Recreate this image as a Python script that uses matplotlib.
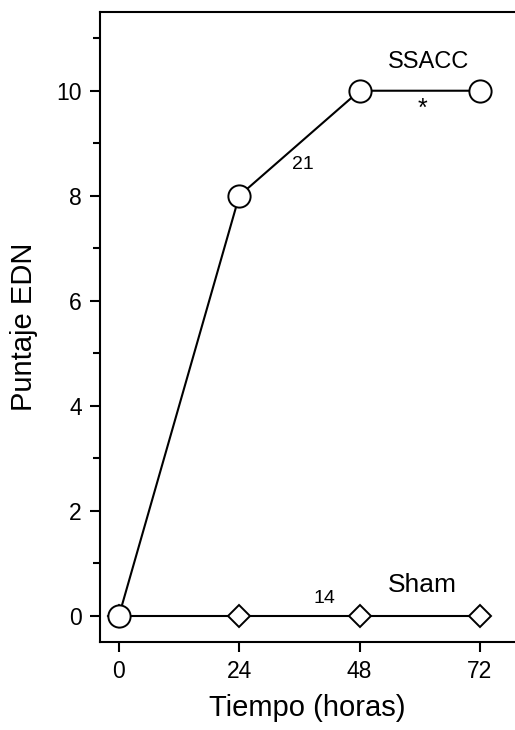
import matplotlib
matplotlib.use('Agg')
import matplotlib.pyplot as plt
from matplotlib.ticker import MultipleLocator

plt.rcParams['font.family'] = ['Liberation Sans', 'DejaVu Sans']

# datos
horas = [0, 24, 48, 72]
ssacc = [0, 8, 10, 10]
sham = [0, 0, 0, 0]
x_ticks = [0, 24, 48, 72]
y_ticks = [0, 2, 4, 6, 8, 10]

fig = plt.figure(figsize=(5.15, 7.3), dpi=100)
ax = fig.add_axes([0.194, 0.1205, 0.806, 0.8631])

# Sham (rombos) y SSACC (círculos)
ax.plot(horas, sham, color='black', lw=1.5, marker='D', ms=11,
        mfc='white', mec='black', mew=1.4, zorder=3)
ax.plot(horas, ssacc, color='black', lw=1.5, marker='o', ms=16,
        mfc='white', mec='black', mew=1.4, zorder=4, clip_on=False)

ax.set_xlim(-3.8, 79)
ax.set_ylim(-0.5, 11.5)
ax.set_xticks(x_ticks)
ax.set_yticks(y_ticks)
ax.yaxis.set_minor_locator(MultipleLocator(1))

for s in ['left', 'bottom', 'top']:
    ax.spines[s].set_linewidth(1.5)
ax.spines['right'].set_visible(False)

ax.tick_params(axis='both', which='major', direction='out', length=7,
               width=1.5, labelsize=16.5, pad=6)
ax.tick_params(axis='y', which='minor', direction='out', length=5, width=1.5)
ax.tick_params(axis='x', which='minor', bottom=False)

ax.set_xlabel('Tiempo (horas)', fontsize=21, labelpad=8)
ax.set_ylabel('Puntaje EDN', fontsize=21, labelpad=13)

# anotaciones
ax.text(61.8, 10.55, 'SSACC', fontsize=17, ha='center', va='center')
ax.text(60.6, 9.65, '*', fontsize=18, ha='center', va='center')
ax.text(36.6, 8.6, '21', fontsize=14, ha='center', va='center')
ax.text(60.6, 0.58, 'Sham', fontsize=19, ha='center', va='center')
ax.text(41, 0.32, '14', fontsize=14, ha='center', va='center')

fig.savefig('out.png', dpi=100)
